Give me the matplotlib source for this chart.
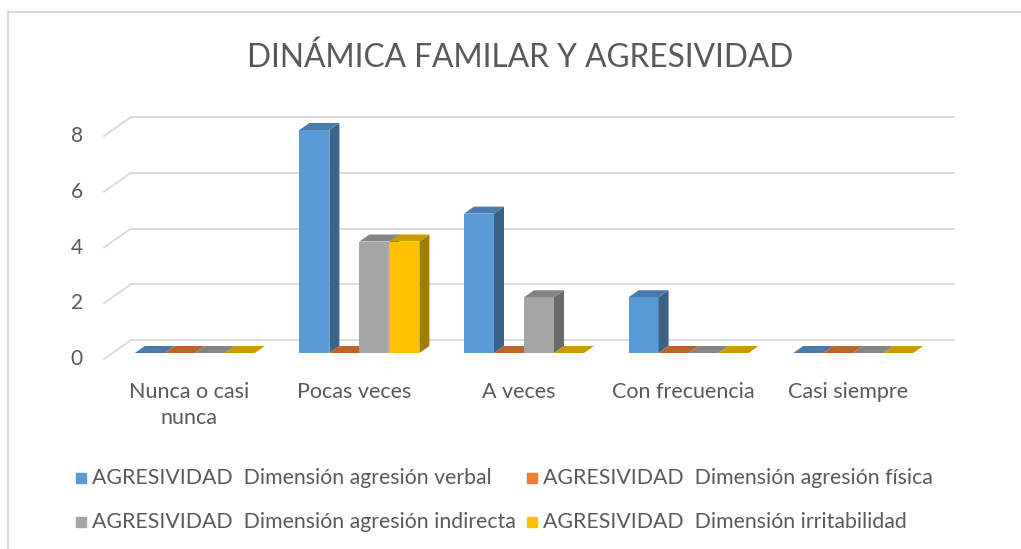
import numpy as np
import matplotlib.pyplot as plt
from matplotlib.patches import Polygon
from matplotlib.lines import Line2D
from matplotlib.patches import Rectangle

categories = ["Nunca o casi\nnunca", "Pocas veces", "A veces", "Con frecuencia", "Casi siempre"]
series_names = ["AGRESIVIDAD  Dimensión agresión verbal",
                "AGRESIVIDAD  Dimensión agresión física",
                "AGRESIVIDAD  Dimensión agresión indirecta",
                "AGRESIVIDAD  Dimensión irritabilidad"]
verbal = [0, 8, 5, 2, 0]
fisica = [0, 0, 0, 0, 0]
indirecta = [0, 4, 2, 0, 0]
irritabilidad = [0, 4, 0, 0, 0]
yticks = [0, 2, 4, 6, 8]

colors = ["#5B9BD5", "#ED7D31", "#A5A5A5", "#FFC000"]
text_color = "#595959"
grid_color = "#D9D9D9"

plt.rcParams['font.family'] = ['Lato', 'DejaVu Sans']

W, H = 1021, 549
fig = plt.figure(figsize=(W / 100, H / 100), dpi=100)

# chart border (top and left only visible)
fig.add_artist(Line2D([8 / W, 8 / W], [0, 1 - 12 / H], color=grid_color, lw=1.5))
fig.add_artist(Line2D([8 / W, 1], [1 - 12 / H, 1 - 12 / H], color=grid_color, lw=1.5))

# front plane of the 3d box
ax = fig.add_axes([104 / W, 190 / H, 823 / W, 223 / H])
ax.set_xlim(-0.5, 4.5)
ax.set_ylim(0, 8)
ax.axis('off')

sx = 823 / 5.0    # px per category
sy = 223 / 8.0    # px per unit
back_dx, back_dy = 27 / sx, 19 / sy       # back wall offset
front_dx, front_dy = 8.5 / sx, 6 / sy     # bar front offset
depth_dx, depth_dy = 10 / sx, 7 / sy      # bar depth

# gridlines on back wall + diagonal on side wall
for v in yticks:
    ax.plot([-0.5 + back_dx, 4.5 + back_dx], [v + back_dy, v + back_dy],
            color=grid_color, lw=1.3, clip_on=False, zorder=1)
    ax.plot([-0.5, -0.5 + back_dx], [v, v + back_dy],
            color=grid_color, lw=1.3, clip_on=False, zorder=1)
    ax.text(-0.5 - 21 / sx, v, str(v), ha='right', va='center',
            fontsize=15, color=text_color)


def shade(c, f):
    r, g, b = [int(c[i:i + 2], 16) / 255 for i in (1, 3, 5)]
    return (r * f, g * f, b * f)


data = [verbal, fisica, indirecta, irritabilidad]
bw = 30 / sx
x = np.arange(len(categories))
z = 2
for i in range(len(categories)):
    for j, vals in enumerate(data):
        v = vals[i]
        xc = x[i] + (j - 1.5) * bw + front_dx
        x0, x1 = xc - bw / 2, xc + bw / 2
        y0 = front_dy
        ax.bar(xc, v, width=bw, bottom=y0, color=colors[j], lw=0, zorder=z, clip_on=False)
        side = Polygon([(x1, y0), (x1 + depth_dx, y0 + depth_dy),
                        (x1 + depth_dx, y0 + v + depth_dy), (x1, y0 + v)],
                       closed=True, color=shade(colors[j], 0.64), lw=0, zorder=z, clip_on=False)
        top = Polygon([(x0, y0 + v), (x1, y0 + v),
                       (x1 + depth_dx, y0 + v + depth_dy), (x0 + depth_dx, y0 + v + depth_dy)],
                      closed=True, color=shade(colors[j], 0.8), lw=0, zorder=z, clip_on=False)
        ax.add_patch(side)
        ax.add_patch(top)
        z += 1

for i, c in enumerate(categories):
    ax.text(x[i] + 3 / sx, -23 / sy, c, ha='center', va='top', fontsize=15.5,
            color=text_color, linespacing=1.35)

fig.text(520 / W, 1 - 58 / H, "DINÁMICA FAMILAR Y AGRESIVIDAD", ha='center', va='center',
         fontsize=22.8, color=text_color)

# legend
leg_pos = [(76, 478), (527, 478), (76, 522), (527, 522)]
for (lx, ly), name, c in zip(leg_pos, series_names, colors):
    fig.add_artist(Rectangle((lx / W, 1 - (ly + 5) / H), 10 / W, 10 / H, color=c))
    fig.text((lx + 16) / W, 1 - ly / H, name, ha='left', va='center',
             fontsize=15.3, color=text_color)

fig.savefig("out.png", dpi=100)
